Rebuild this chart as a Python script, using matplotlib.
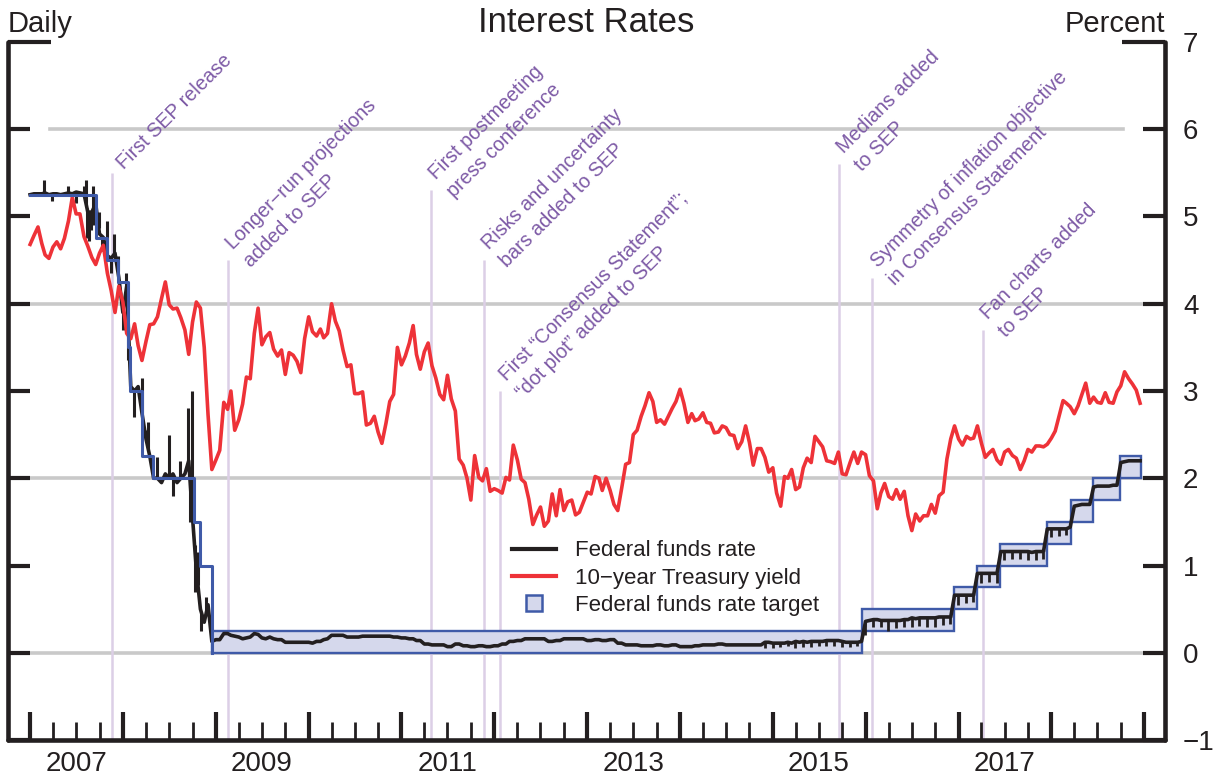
import numpy as np
import matplotlib
matplotlib.use('Agg')
import matplotlib.pyplot as plt
import matplotlib.dates as mdates
from matplotlib.lines import Line2D

plt.rcParams['font.family'] = ['Liberation Sans', 'DejaVu Sans']

# observations on the 1st and 16th of each month, Jan 2007 - Dec 2018
months = np.arange('2007-01', '2019-01', dtype='datetime64[M]')
first_day = months.astype('datetime64[D]')
obs_dates = np.column_stack([first_day, first_day + 15]).ravel()

# 10-year Treasury yield, percent (one row per year)
treasury_10y = [
    4.68, 4.78, 4.88, 4.69, 4.56, 4.52, 4.65, 4.71, 4.63, 4.75, 4.95, 5.22, 5.03, 5.03, 4.77, 4.66, 4.53, 4.45, 4.58, 4.67, 4.35, 4.15, 3.90, 4.20,
    4.02, 3.66, 3.60, 3.77, 3.52, 3.35, 3.57, 3.76, 3.77, 3.85, 4.06, 4.25, 3.99, 3.94, 3.95, 3.84, 3.70, 3.42, 3.79, 4.02, 3.95, 3.50, 2.73, 2.10,
    2.21, 2.32, 2.87, 2.79, 3.00, 2.55, 2.67, 2.85, 3.16, 3.14, 3.66, 3.95, 3.53, 3.62, 3.67, 3.48, 3.40, 3.47, 3.19, 3.44, 3.41, 3.34, 3.21, 3.60,
    3.85, 3.68, 3.63, 3.71, 3.61, 3.66, 4.00, 3.80, 3.69, 3.47, 3.28, 3.30, 2.97, 2.97, 2.99, 2.61, 2.63, 2.71, 2.53, 2.40, 2.63, 2.88, 2.96, 3.50,
    3.30, 3.40, 3.55, 3.75, 3.42, 3.25, 3.45, 3.55, 3.29, 3.15, 2.96, 2.90, 3.18, 2.91, 2.77, 2.22, 2.15, 2.00, 1.75, 2.26, 2.01, 1.97, 2.11, 1.85,
    1.88, 1.86, 1.83, 2.01, 1.98, 2.38, 2.21, 1.99, 1.95, 1.76, 1.47, 1.58, 1.67, 1.45, 1.51, 1.82, 1.57, 1.87, 1.63, 1.73, 1.75, 1.58, 1.61, 1.72,
    1.84, 1.82, 2.02, 2.00, 1.86, 2.00, 1.86, 1.70, 1.63, 1.88, 2.16, 2.18, 2.50, 2.55, 2.71, 2.83, 2.98, 2.88, 2.64, 2.67, 2.62, 2.71, 2.80, 2.88,
    3.02, 2.86, 2.64, 2.74, 2.66, 2.68, 2.75, 2.64, 2.63, 2.52, 2.53, 2.60, 2.58, 2.50, 2.49, 2.34, 2.42, 2.60, 2.41, 2.15, 2.34, 2.34, 2.24, 2.07,
    2.12, 1.83, 1.68, 2.02, 2.00, 2.10, 1.87, 1.90, 2.12, 2.23, 2.18, 2.48, 2.42, 2.36, 2.20, 2.19, 2.17, 2.30, 2.05, 2.04, 2.18, 2.30, 2.17, 2.30,
    2.27, 2.03, 1.97, 1.65, 1.83, 1.94, 1.79, 1.76, 1.87, 1.76, 1.85, 1.57, 1.40, 1.59, 1.51, 1.57, 1.57, 1.70, 1.60, 1.80, 1.84, 2.22, 2.45, 2.60,
    2.45, 2.38, 2.48, 2.45, 2.46, 2.60, 2.40, 2.24, 2.29, 2.33, 2.21, 2.16, 2.30, 2.33, 2.26, 2.23, 2.10, 2.20, 2.33, 2.30, 2.37, 2.37, 2.36, 2.39,
    2.46, 2.54, 2.72, 2.89, 2.86, 2.82, 2.74, 2.83, 2.96, 3.09, 2.86, 2.93, 2.87, 2.86, 2.98, 2.87, 2.86, 2.99, 3.06, 3.22, 3.14, 3.08, 3.01, 2.86,
]

# effective federal funds rate, percent
fed_funds = [
    5.25, 5.26, 5.26, 5.26, 5.27, 5.25, 5.26, 5.26, 5.25, 5.26, 5.27, 5.26, 5.28, 5.27, 5.26, 5.05, 5.05, 5.15, 4.80, 4.76, 4.55, 4.52, 4.58, 4.30,
    3.90, 4.20, 3.05, 3.00, 3.05, 2.75, 2.45, 2.25, 2.00, 2.00, 1.95, 2.05, 2.00, 2.05, 1.95, 2.00, 2.05, 2.20, 1.55, 0.95, 0.50, 0.35, 0.55, 0.13,
    0.15, 0.15, 0.22, 0.22, 0.20, 0.19, 0.18, 0.16, 0.17, 0.18, 0.22, 0.21, 0.17, 0.16, 0.18, 0.16, 0.15, 0.15, 0.12, 0.12, 0.12, 0.12, 0.12, 0.12,
    0.12, 0.11, 0.13, 0.13, 0.15, 0.16, 0.20, 0.20, 0.20, 0.20, 0.18, 0.18, 0.18, 0.18, 0.19, 0.19, 0.19, 0.19, 0.19, 0.19, 0.19, 0.19, 0.18, 0.18,
    0.17, 0.17, 0.16, 0.16, 0.14, 0.14, 0.10, 0.10, 0.09, 0.09, 0.09, 0.09, 0.07, 0.07, 0.10, 0.10, 0.08, 0.08, 0.07, 0.07, 0.08, 0.08, 0.07, 0.07,
    0.08, 0.08, 0.10, 0.10, 0.13, 0.13, 0.14, 0.14, 0.16, 0.16, 0.16, 0.16, 0.16, 0.16, 0.13, 0.13, 0.14, 0.14, 0.16, 0.16, 0.16, 0.16, 0.16, 0.16,
    0.14, 0.14, 0.15, 0.15, 0.14, 0.14, 0.15, 0.15, 0.11, 0.11, 0.09, 0.09, 0.09, 0.09, 0.08, 0.08, 0.08, 0.08, 0.09, 0.09, 0.08, 0.08, 0.09, 0.09,
    0.07, 0.07, 0.07, 0.07, 0.08, 0.08, 0.09, 0.09, 0.09, 0.09, 0.10, 0.10, 0.09, 0.09, 0.09, 0.09, 0.09, 0.09, 0.09, 0.09, 0.09, 0.09, 0.12, 0.12,
    0.11, 0.11, 0.11, 0.11, 0.12, 0.11, 0.13, 0.12, 0.13, 0.12, 0.13, 0.13, 0.13, 0.13, 0.14, 0.14, 0.14, 0.14, 0.13, 0.12, 0.12, 0.12, 0.12, 0.13,
    0.36, 0.37, 0.38, 0.38, 0.37, 0.37, 0.37, 0.37, 0.37, 0.37, 0.38, 0.38, 0.40, 0.39, 0.40, 0.40, 0.40, 0.40, 0.40, 0.41, 0.41, 0.41, 0.41, 0.66,
    0.66, 0.66, 0.66, 0.66, 0.66, 0.91, 0.91, 0.91, 0.91, 0.91, 0.91, 1.16, 1.16, 1.16, 1.16, 1.16, 1.16, 1.16, 1.16, 1.15, 1.16, 1.16, 1.16, 1.42,
    1.42, 1.42, 1.42, 1.42, 1.42, 1.44, 1.68, 1.69, 1.70, 1.70, 1.70, 1.90, 1.91, 1.91, 1.91, 1.91, 1.92, 1.92, 2.18, 2.19, 2.20, 2.20, 2.20, 2.20,
]

# single-day moves in the funds rate, 2007-2008
spike_dates = ['2007-02-23', '2007-03-30', '2007-05-31', '2007-06-29', '2007-07-31', '2007-08-09',
               '2007-08-13', '2007-08-17', '2007-08-22', '2007-08-28', '2007-09-04', '2007-09-11',
               '2007-09-28', '2007-10-10', '2007-10-31', '2007-11-15', '2007-11-29', '2007-12-12',
               '2007-12-31', '2008-01-14', '2008-01-23', '2008-02-14', '2008-03-17', '2008-03-31',
               '2008-04-10', '2008-05-13', '2008-06-30', '2008-07-17', '2008-08-12', '2008-09-15',
               '2008-09-22', '2008-09-30', '2008-10-09', '2008-10-22', '2008-11-05', '2008-11-24']
spike_values = [5.42, 5.18, 5.35, 5.15, 5.35, 5.42,
                4.75, 4.95, 4.72, 4.85, 5.35, 4.90,
                5.05, 4.60, 4.95, 4.35, 4.80, 4.55,
                3.70, 4.35, 3.35, 2.70, 3.15, 2.55,
                2.65, 2.24, 2.50, 1.80, 2.20, 2.80,
                1.50, 3.00, 0.70, 1.15, 0.25, 0.64]

# month-end dips in the funds rate, Nov 2014 - Feb 2018
dip_months = np.arange('2014-11', '2018-03', dtype='datetime64[M]')
dip_values = [0.06, 0.06,
              0.07, 0.08, 0.06, 0.07, 0.07, 0.08, 0.08, 0.08, 0.07, 0.07, 0.08, 0.20,
              0.30, 0.30, 0.25, 0.28, 0.29, 0.30, 0.31, 0.30, 0.29, 0.32, 0.33, 0.55,
              0.57, 0.58, 0.80, 0.81, 0.80, 1.06, 1.07, 1.08, 1.06, 1.06, 1.07, 1.33,
              1.34, 1.35]

# federal funds rate target (single value)
target_dates = ['2007-01-02', '2007-09-18', '2007-10-31', '2007-12-11', '2008-01-22', '2008-01-30',
                '2008-03-18', '2008-04-30', '2008-10-08', '2008-10-29', '2008-12-16']
target_values = [5.25, 4.75, 4.50, 4.25, 3.50, 3.00, 2.25, 2.00, 1.50, 1.00, 0.00]

# federal funds rate target range
range_start = ['2008-12-16', '2015-12-16', '2016-12-14', '2017-03-15', '2017-06-14',
               '2017-12-13', '2018-03-21', '2018-06-13', '2018-09-26']
range_end = ['2015-12-16', '2016-12-14', '2017-03-15', '2017-06-14', '2017-12-13',
             '2018-03-21', '2018-06-13', '2018-09-26', '2018-12-18']
range_low = [0.00, 0.25, 0.50, 0.75, 1.00, 1.25, 1.50, 1.75, 2.00]
range_high = [0.25, 0.50, 0.75, 1.00, 1.25, 1.50, 1.75, 2.00, 2.25]

# communication events
event_dates = ['2007-11-20', '2009-02-18', '2011-04-27', '2011-11-22', '2012-01-25',
               '2015-09-17', '2016-01-27', '2017-04-05']
event_tops = [5.5, 4.5, 5.3, 4.5, 3.0, 5.6, 4.3, 3.7]
event_labels = ['First SEP release',
                'Longer\u2212run projections\nadded to SEP',
                'First postmeeting\npress conference',
                'Risks and uncertainty\nbars added to SEP',
                'First \u201cConsensus Statement\u201d;\n\u201cdot plot\u201d added to SEP',
                'Medians added\nto SEP',
                'Symmetry of inflation objective\nin Consensus Statement',
                'Fan charts added\nto SEP']

grid_levels = [0, 2, 4, 6]
year_ticks = np.arange('2007', '2020', dtype='datetime64[Y]')

DARK = '#231f20'
RED = '#ee3238'
BLUE = '#3f5aa8'
FILL = '#d5d8ec'
PURPLE = '#7d5aa6'
LILAC = '#dccfe6'
GREY = '#c9c9c9'

fig = plt.figure(figsize=(12.25, 7.77), dpi=100)
ax = fig.add_axes([8 / 1225, 37 / 777, 1157 / 1225, 698 / 777])

obs_x = mdates.date2num(obs_dates)

for lev in grid_levels:
    if lev == 6:
        ax.axhline(lev, 0.036, 0.964, color=GREY, lw=2.6, zorder=1)
    else:
        ax.axhline(lev, 0.017, 0.983, color=GREY, lw=2.6, zorder=1)

# event markers: thin line plus a 45-degree label, one text per line
step = 18.0 * 0.7071  # line pitch along the slanted text, in points
for d, top, text in zip(event_dates, event_tops, event_labels):
    x = mdates.date2num(np.datetime64(d))
    ax.vlines(x, -1, top, color=LILAC, lw=1.8, zorder=1.5)
    lines = text.split('\n')
    bx, by = (8.5, 2.2) if len(lines) == 1 else (4.0, 7.0)
    for i, line in enumerate(lines):
        ax.annotate(line, (x, top), xytext=(bx + i * step, by - i * step),
                    textcoords='offset points', rotation=45, rotation_mode='anchor',
                    ha='left', va='baseline', color=PURPLE, fontsize=14.2)

# target range boxes
rs = mdates.date2num(np.array(range_start, dtype='datetime64[D]'))
re_ = mdates.date2num(np.array(range_end, dtype='datetime64[D]'))
ax.bar(rs, np.array(range_high) - np.array(range_low), width=re_ - rs, bottom=range_low,
       align='edge', facecolor=FILL, edgecolor=BLUE, linewidth=1.7, zorder=2)

# effective funds rate
ff = np.array(fed_funds)
ax.plot(obs_x, ff, color=DARK, lw=2.6, zorder=3, solid_joinstyle='round')
sx = mdates.date2num(np.array(spike_dates, dtype='datetime64[D]'))
ax.vlines(sx, np.interp(sx, obs_x, ff), spike_values, color=DARK, lw=2.2, zorder=3)
dx = mdates.date2num((dip_months + 1).astype('datetime64[D]') - 1)
ax.vlines(dx, np.interp(dx, obs_x, ff), dip_values, color=DARK, lw=2.0, zorder=3)

ax.plot(obs_x, treasury_10y, color=RED, lw=2.6, zorder=4, solid_joinstyle='round')

tx = mdates.date2num(np.array(target_dates, dtype='datetime64[D]'))
ax.step(tx, target_values, where='post', color=BLUE, lw=2.2, zorder=5)

# axes
ax.set_xlim(mdates.date2num(np.datetime64('2006-10-06')), mdates.date2num(np.datetime64('2019-03-24')))
ax.set_ylim(-1, 7)
ax.set_yticks(range(-1, 8))
ax.tick_params(axis='y', which='major', direction='in', left=True, right=True,
               labelleft=False, labelright=True, length=16, width=3, labelsize=20,
               pad=13, colors=DARK)

maj = mdates.date2num(year_ticks.astype('datetime64[D]'))
ax.set_xticks(maj)
ax.set_xticklabels([])
minor_dates = []
minor_labels = []
for y in year_ticks[:-1]:
    for m in ['04', '07', '10']:
        minor_dates.append(np.datetime64(str(y) + '-' + m + '-01'))
        minor_labels.append(str(y) if (m == '07' and int(str(y)) % 2 == 1) else '')
ax.set_xticks(mdates.date2num(np.array(minor_dates)), minor=True)
ax.set_xticklabels(minor_labels, minor=True)
ax.tick_params(axis='x', which='major', direction='in', length=20, width=3, colors=DARK)
ax.tick_params(axis='x', which='minor', direction='in', length=13, width=2,
               labelsize=20, pad=8, colors=DARK)

for t in ax.yaxis.get_major_ticks()[-1:]:
    t.tick1line.set_markersize(31)
    t.tick2line.set_markersize(31)

ax.spines['top'].set_visible(False)
for s in ['left', 'right', 'bottom']:
    ax.spines[s].set_linewidth(3.3)
    ax.spines[s].set_color(DARK)
    ax.spines[s].set_capstyle('round')

handles = [Line2D([], [], color=DARK, lw=3),
           Line2D([], [], color=RED, lw=3),
           Line2D([], [], marker='s', ls='none', markersize=11, markerfacecolor=FILL,
                  markeredgecolor=BLUE, markeredgewidth=1.8)]
labels = ['Federal funds rate', '10\u2212year Treasury yield', 'Federal funds rate target']
leg = ax.legend(handles, labels, loc='upper left', bbox_to_anchor=(0.4356, 0.286),
                frameon=False, fontsize=16, handlelength=2.0, handletextpad=0.85,
                labelspacing=0.28, borderaxespad=0, borderpad=0)
for txt in leg.get_texts():
    txt.set_color(DARK)

base = 1 - 32 / 777
fig.text(8 / 1225, base, 'Daily', fontsize=21, ha='left', va='baseline', color=DARK)
fig.text(1165 / 1225, base, 'Percent', fontsize=21, ha='right', va='baseline', color=DARK)
fig.text(586.5 / 1225, base, 'Interest Rates', fontsize=25, ha='center', va='baseline', color=DARK)

fig.savefig('out.png', dpi=100)
